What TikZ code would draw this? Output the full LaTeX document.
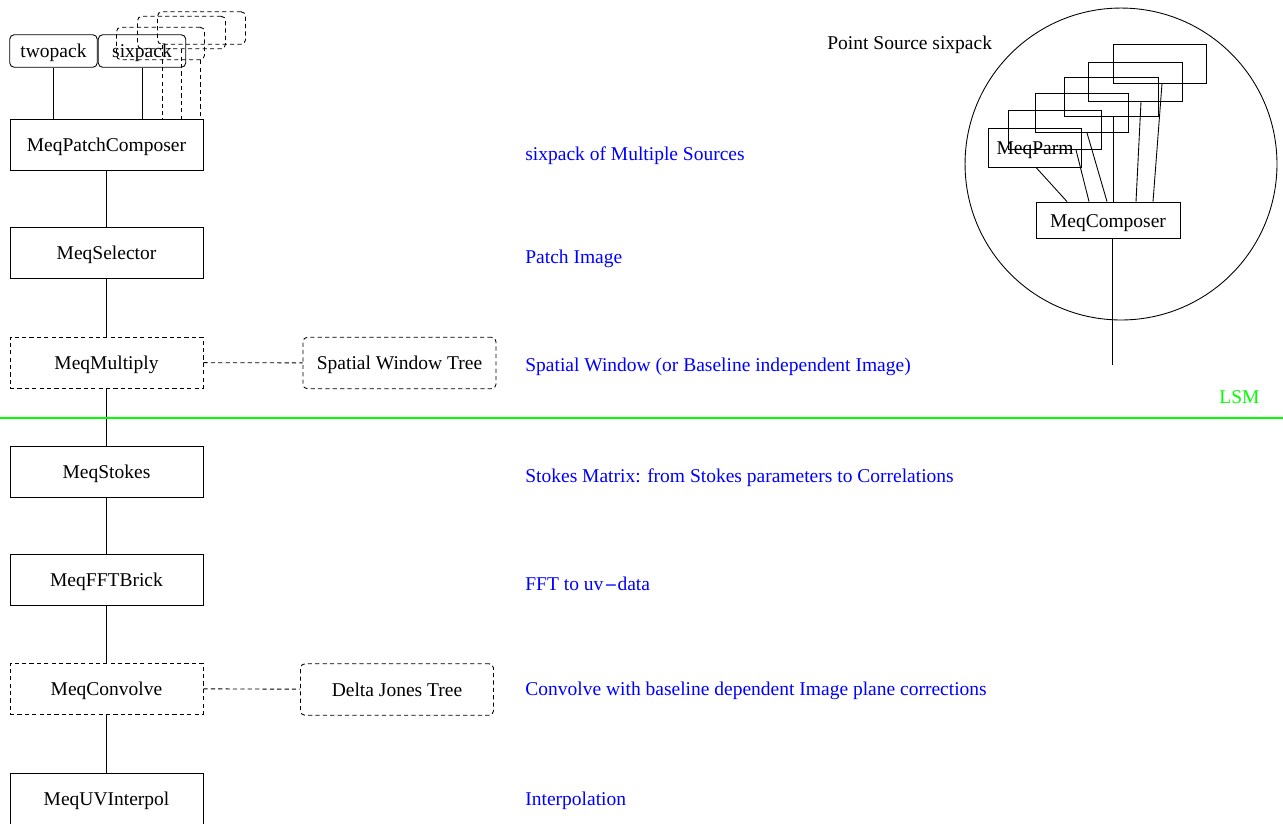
\documentclass[tikz,border=0pt]{standalone}
\usepackage{fontspec}
\setmainfont{Liberation Serif}
\begin{document}
\begin{tikzpicture}[x=0.02cm,y=-0.02cm,
  every node/.style={font=\fontsize{11.1}{13}\selectfont, inner sep=0pt},
  thinline/.style={line width=0.5pt},
  dsh/.style={dash pattern=on 2.4pt off 1.8pt},
  boxtext/.style={text height=8.4pt, text depth=1pt},
  mainbox/.style={draw, thinline, boxtext, minimum width=3.86cm, minimum height=1.02cm},
  treebox/.style={draw, thinline, boxtext, dsh, rounded corners=2.5pt, minimum width=3.86cm, minimum height=1.03cm},
  packbox/.style={draw, thinline, boxtext, rounded corners=2.5pt, minimum width=1.75cm, minimum height=0.65cm},
  ghost/.style={draw, thinline, dsh, rounded corners=2.5pt, minimum width=1.76cm, minimum height=0.65cm},
  srcbox/.style={draw, thinline, text height=8pt, text depth=0pt, minimum width=1.87cm, minimum height=0.78cm},
  note/.style={text=blue, anchor=base west},
]
\useasboundingbox (0,0) rectangle (1283,823);

% pack boxes
\node[ghost] (g3) at (201.5,28) {};
\node[ghost] (g2) at (181.5,32.5) {};
\node[ghost] (g1) at (160.5,43.5) {};
\node[packbox] (twopack) at (53.5,51) {twopack};
\node[packbox] (sixpack) at (142,51) {sixpack};

% main chain
\node[mainbox] (pc) at (106.5,144.5) {MeqPatchComposer};
\node[mainbox] (sel) at (106.5,252.5) {MeqSelector};
\node[mainbox, dsh] (mul) at (106.5,362.5) {MeqMultiply};
\node[mainbox] (sto) at (106.5,471.5) {MeqStokes};
\node[mainbox] (fft) at (106.5,579.5) {MeqFFTBrick};
\node[mainbox, dsh] (con) at (106.5,688.5) {MeqConvolve};
\node[mainbox] (uvi) at (106.5,798.5) {MeqUVInterpol};

\node[treebox] (swt) at (399.5,363) {Spatial Window Tree};
\node[treebox] (djt) at (397,689.5) {Delta Jones Tree};

\draw[thinline] (twopack) -- (twopack |- pc.north);
\draw[thinline] (sixpack) -- (sixpack |- pc.north);
\draw[thinline, dsh] (162,0 |- g3.south) -- (162,0 |- pc.north);
\draw[thinline, dsh] (181,0 |- g2.south) -- (181,0 |- pc.north);
\draw[thinline, dsh] (200,0 |- g1.south) -- (200,0 |- pc.north);

\draw[thinline] (pc) -- (sel);
\draw[thinline] (sel) -- (mul);
\draw[thinline] (mul) -- (sto);
\draw[thinline] (sto) -- (fft);
\draw[thinline] (fft) -- (con);
\draw[thinline] (con) -- (uvi);
\draw[thinline, dsh] (mul) -- (swt);
\draw[thinline, dsh] (con) -- (djt);

% notes
\node[note] (n1) at (525,160) {sixpack of Multiple Sources};
\node[note] (n2) at (525,263) {Patch Image};
\node[note] (n3) at (525,371) {Spatial Window (or Baseline independent Image)};
\node[note] (n4) at (525,482) {Stokes Matrix: from Stokes parameters to Correlations};
\node[note] (n5) at (525,590) {FFT to uv{\fontspec{DejaVu Sans}\kern0.5pt\small−}data};
\node[note] (n6) at (525,695) {Convolve with baseline dependent Image plane corrections};
\node[note] (n7) at (525,805) {Interpolation};

% LSM line
\coordinate (gl) at (0,418);
\coordinate (gr) at (1283,418);
\draw[line width=0.6pt, green] (gl) -- (gr);
\node[anchor=base west, text=green] (lsm) at (1219,403) {LSM};

% point source
\node[anchor=base west] (pst) at (827,49) {Point Source sixpack};
\node[draw, thinline, circle, minimum size=6.24cm] (circ) at (1121,164) {};
\node[srcbox] (b6) at (1160,63.5) {};
\node[srcbox] (b5) at (1135.5,81.5) {};
\node[srcbox] (b4) at (1111.5,96.5) {};
\node[srcbox] (b3) at (1082,113) {};
\node[srcbox] (b2) at (1055,130) {};
\node[srcbox] (parm) at (1035,147.5) {MeqParm};
\node[draw, thinline, text height=8pt, text depth=0pt, minimum width=2.88cm, minimum height=0.72cm] (mc) at (1108,220) {MeqComposer};

\draw[thinline] (1067,0 |- mc.north) -- (1036,0 |- parm.south);
\draw[thinline] (1089,0 |- mc.north) -- (1076,0 |- b2.south);
\draw[thinline] (1107,0 |- mc.north) -- (1087,0 |- b3.south);
\draw[thinline] (1113,0 |- mc.north) -- (1113,0 |- b4.south);
\draw[thinline] (1136,0 |- mc.north) -- (1141,0 |- b5.south);
\draw[thinline] (1153,0 |- mc.north) -- (1162,0 |- b6.south);
\coordinate (mcend) at (1112,365);
\draw[thinline] (1112,0 |- mc.south) -- (mcend);
\end{tikzpicture}
\end{document}
